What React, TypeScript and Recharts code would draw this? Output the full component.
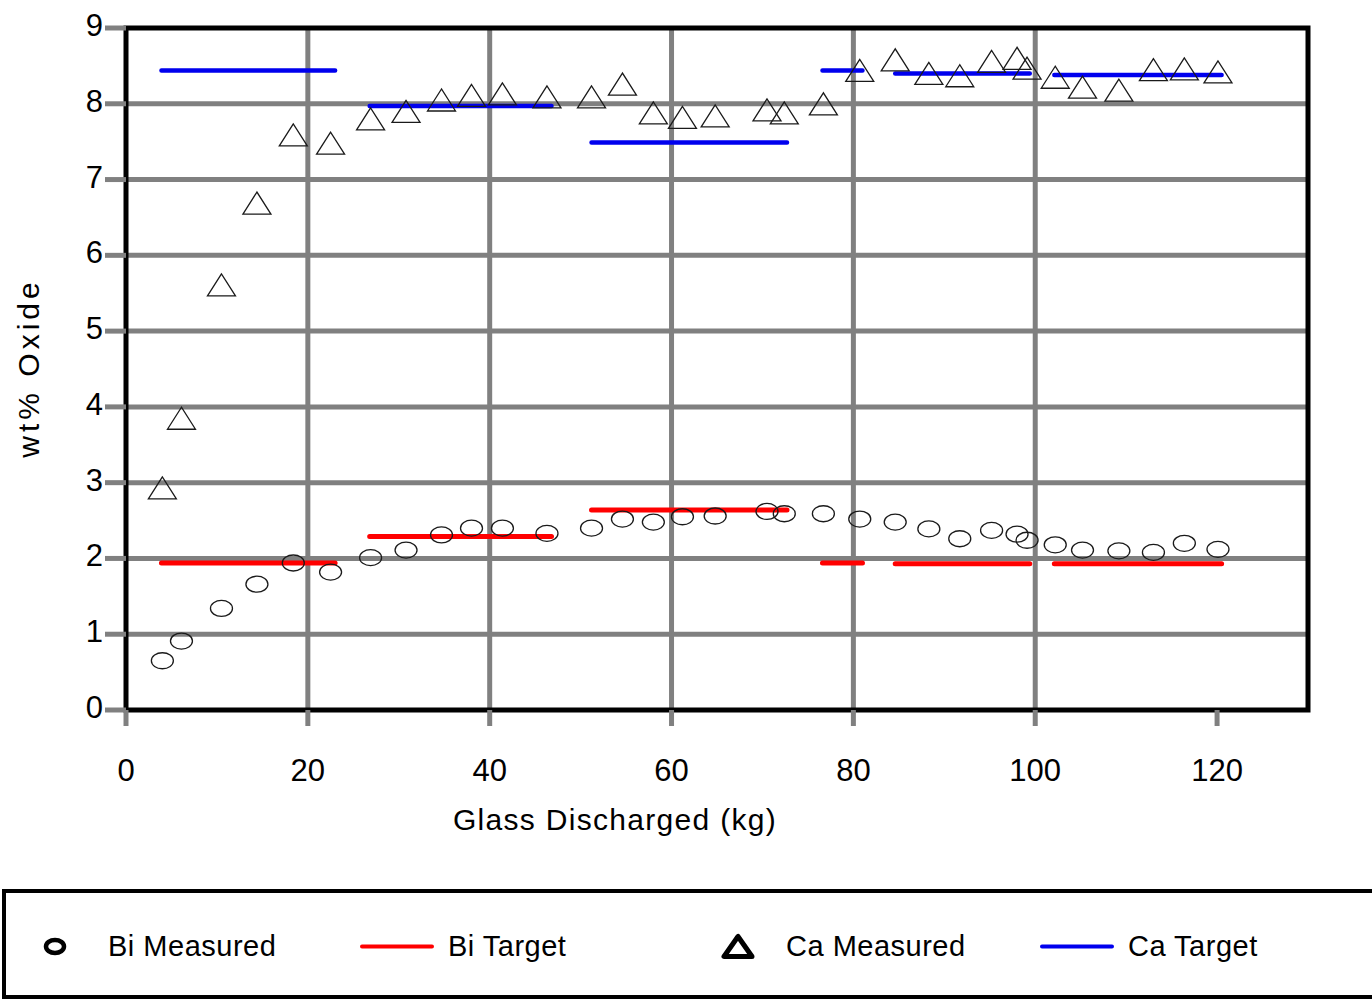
import React from "react";
import { ComposedChart, Line, Scatter, XAxis, YAxis, CartesianGrid, ReferenceArea } from "recharts";

// glass discharged at each sample (kg)
const glassKg = [
  4.0, 6.1, 10.5, 14.4, 18.4, 22.5, 26.9, 30.8, 34.7, 38.0, 41.4, 46.3, 51.2, 54.6, 58.0, 61.2, 64.8,
  70.5, 72.4, 76.7, 80.7, 84.6, 88.3, 91.7, 95.2, 98.0, 99.1, 102.2, 105.2, 109.2, 113.0, 116.4, 120.1,
];

// measured oxide contents (wt%)
const biMeasured = [
  0.65, 0.91, 1.34, 1.66, 1.94, 1.82, 2.01, 2.11, 2.31, 2.4, 2.4, 2.33, 2.4, 2.52, 2.48, 2.55, 2.56,
  2.62, 2.59, 2.59, 2.52, 2.48, 2.39, 2.26, 2.37, 2.32, 2.24, 2.18, 2.11, 2.1, 2.08, 2.2, 2.12,
];
const caMeasured = [
  2.93, 3.85, 5.61, 6.69, 7.59, 7.48, 7.8, 7.9, 8.05, 8.11, 8.13, 8.09, 8.09, 8.26, 7.88, 7.82, 7.84,
  7.92, 7.88, 8.0, 8.44, 8.58, 8.4, 8.37, 8.56, 8.6, 8.47, 8.35, 8.22, 8.18, 8.45, 8.46, 8.42,
];

// target composition per feed batch
const batchStart = [3.9, 26.8, 51.2, 76.6, 84.6, 102.1];
const batchEnd = [23.0, 46.8, 72.7, 81.0, 99.4, 120.5];
const biTarget = [1.94, 2.29, 2.64, 1.94, 1.93, 1.93];
const caTarget = [8.44, 7.97, 7.49, 8.44, 8.4, 8.38];

const xTicks = [0, 20, 40, 60, 80, 100, 120];
const yTicks = [0, 1, 2, 3, 4, 5, 6, 7, 8, 9];
const xGrid = [20, 40, 60, 80, 100];
const yGrid = [1, 2, 3, 4, 5, 6, 7, 8];

const legendItems = [
  { name: "Bi Measured", kind: "circle", color: "#000" },
  { name: "Bi Target", kind: "line", color: "#ff0000" },
  { name: "Ca Measured", kind: "triangle", color: "#000" },
  { name: "Ca Target", kind: "line", color: "#0000ee" },
];
const legendLeft = [34, 354, 714, 1034];
const legendGap: Record<string, number> = { circle: 38, line: 14, triangle: 30 };

const FONT = '"Liberation Sans", Arial, sans-serif';
const GRID = "#808080";

const points = (ys: number[]) => glassKg.map((x, i) => ({ x, y: ys[i] }));

// flat segments per batch, separated by null gaps
const segments = (vals: number[]) =>
  vals.flatMap((v, i) => {
    const seg: { x: number; y: number | null }[] = [
      { x: batchStart[i], y: v },
      { x: batchEnd[i], y: v },
    ];
    if (i < vals.length - 1) seg.push({ x: (batchEnd[i] + batchStart[i + 1]) / 2, y: null });
    return seg;
  });

const Oval = (p: any) => (
  <ellipse cx={p.cx} cy={p.cy} rx={11} ry={8} fill="none" stroke="#1a1a1a" strokeWidth={1.3} />
);

const Tri = (p: any) => (
  <polygon
    points={`${p.cx},${p.cy - 11} ${p.cx - 14},${p.cy + 11} ${p.cx + 14},${p.cy + 11}`}
    fill="none"
    stroke="#1a1a1a"
    strokeWidth={1.3}
  />
);

function LegendMark({ kind, color }: { kind: string; color: string }) {
  if (kind === "line")
    return (
      <svg width={74} height={20}>
        <line x1={2} y1={10} x2={72} y2={10} stroke={color} strokeWidth={4} strokeLinecap="round" />
      </svg>
    );
  if (kind === "circle")
    return (
      <svg width={30} height={24}>
        <ellipse cx={15} cy={12} rx={9} ry={6.5} fill="#fff" stroke={color} strokeWidth={4.5} />
      </svg>
    );
  return (
    <svg width={36} height={28}>
      <polygon points="18,4 4,24 32,24" fill="#fff" stroke={color} strokeWidth={5} strokeLinejoin="round" />
    </svg>
  );
}

export default function App() {
  const tickStyle = { fontSize: 31, fontFamily: FONT, fill: "#000" };
  return (
    <div style={{ position: "absolute", left: 0, top: 0, width: 1372, height: 1004, background: "#fff", fontFamily: FONT }}>
      <ComposedChart width={1372} height={880} margin={{ top: 28, right: 64, bottom: 110, left: 56 }}>
        <CartesianGrid
          stroke={GRID}
          strokeWidth={5}
          horizontalValues={yGrid}
          verticalValues={xGrid}
        />
        <XAxis
          type="number"
          dataKey="x"
          domain={[0, 130]}
          ticks={xTicks}
          height={60}
          axisLine={false}
          tickLine={{ stroke: GRID, strokeWidth: 5 }}
          tickSize={16}
          tickMargin={33}
          tick={tickStyle}
          allowDataOverflow
        />
        <YAxis
          type="number"
          dataKey="y"
          domain={[0, 9]}
          ticks={yTicks}
          width={70}
          axisLine={false}
          tickLine={{ stroke: GRID, strokeWidth: 5 }}
          tickSize={21}
          tickMargin={2}
          tick={{ ...tickStyle, dy: -3 }}
          allowDataOverflow
        />
        <ReferenceArea x1={0} x2={130} y1={0} y2={9} fill="none" stroke="#000" strokeWidth={5} ifOverflow="visible" />
        <Line
          data={segments(biTarget)}
          dataKey="y"
          stroke="#ff0000"
          strokeWidth={5}
          strokeLinecap="round"
          dot={false}
          activeDot={false}
          isAnimationActive={false}
        />
        <Line
          data={segments(caTarget)}
          dataKey="y"
          stroke="#0000ee"
          strokeWidth={4.5}
          strokeLinecap="round"
          dot={false}
          activeDot={false}
          isAnimationActive={false}
        />
        <Scatter data={points(biMeasured)} shape={Oval} isAnimationActive={false} />
        <Scatter data={points(caMeasured)} shape={Tri} isAnimationActive={false} />
      </ComposedChart>

      <div
        style={{
          position: "absolute",
          left: 615,
          top: 820,
          transform: "translate(-50%, -50%)",
          fontSize: 30,
          letterSpacing: 1.3,
          whiteSpace: "nowrap",
          color: "#000",
        }}
      >
        Glass Discharged (kg)
      </div>
      <div
        style={{
          position: "absolute",
          left: 29,
          top: 368,
          transform: "translate(-50%, -50%) rotate(-90deg)",
          fontSize: 30,
          letterSpacing: 4,
          whiteSpace: "nowrap",
          color: "#000",
        }}
      >
        wt% Oxide
      </div>

      <div
        style={{
          position: "absolute",
          left: 2,
          top: 889,
          width: 1370,
          height: 110,
          boxSizing: "border-box",
          border: "4px solid #000",
          borderRight: "none",
        }}
      >
        {legendItems.map((it, i) => (
          <div
            key={it.name}
            style={{
              position: "absolute",
              left: legendLeft[i],
              top: 53,
              transform: "translateY(-50%)",
              display: "flex",
              alignItems: "center",
              gap: legendGap[it.kind],
              fontSize: 29,
              letterSpacing: 0.5,
              color: "#000",
              whiteSpace: "nowrap",
            }}
          >
            <LegendMark kind={it.kind} color={it.color} />
            <span>{it.name}</span>
          </div>
        ))}
      </div>
    </div>
  );
}
